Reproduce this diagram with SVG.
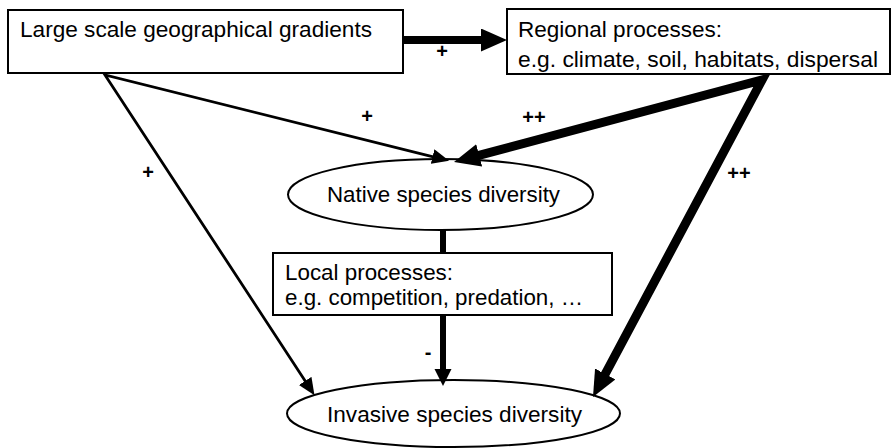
<svg xmlns="http://www.w3.org/2000/svg" width="893" height="448" viewBox="0 0 893 448">
<style>
.box{fill:#fff;stroke:#000;stroke-width:2}
.t{font-family:"Liberation Sans",Arial,sans-serif;font-size:22px;fill:#000}
.lab{font-family:"Liberation Sans",Arial,sans-serif;font-size:20px;font-weight:bold;fill:#000;text-anchor:middle}
.c{fill:none;stroke:#000;stroke-linejoin:miter;stroke-miterlimit:6}
</style>
<defs>
<marker id="thin" markerUnits="userSpaceOnUse" markerWidth="20" markerHeight="16" refX="9" refY="7.5" orient="auto-start-reverse" viewBox="0 0 20 16">
<path d="M0,0 L17,7.5 L0,15 z" fill="#000"/>
</marker>
<marker id="thick" markerUnits="userSpaceOnUse" markerWidth="28" markerHeight="24" refX="13" refY="11.5" orient="auto-start-reverse" viewBox="0 0 28 24">
<path d="M0,0 L26,11.5 L0,23 z" fill="#000"/>
</marker>
<marker id="mid" markerUnits="userSpaceOnUse" markerWidth="18" markerHeight="18" refX="8" refY="8.5" orient="auto" viewBox="0 0 18 18">
<path d="M0,0 L17,8.5 L0,17 z" fill="#000"/>
</marker>
</defs>
<rect width="893" height="448" fill="#fff"/>
<g id="gradients">
<rect class="box" x="8" y="10" width="395" height="63"/>
<text class="t" x="20" y="37" textLength="352" lengthAdjust="spacingAndGlyphs">Large scale geographical gradients</text>
</g>
<g id="regional">
<rect class="box" x="507" y="9" width="383" height="65"/>
<text class="t" x="518" y="37" textLength="204" lengthAdjust="spacingAndGlyphs">Regional processes:</text>
<text class="t" x="518" y="67" textLength="360" lengthAdjust="spacingAndGlyphs">e.g. climate, soil, habitats, dispersal</text>
</g>
<g id="native">
<ellipse class="box" cx="440.5" cy="194.5" rx="152.5" ry="35.5"/>
<text class="t" x="327" y="202" textLength="233" lengthAdjust="spacingAndGlyphs">Native species diversity</text>
</g>
<g id="local">
<rect class="box" x="273" y="253" width="339" height="62"/>
<text class="t" x="285" y="280" textLength="168" lengthAdjust="spacingAndGlyphs">Local processes:</text>
<text class="t" x="285" y="305" textLength="298" lengthAdjust="spacingAndGlyphs">e.g. competition, predation, …</text>
</g>
<g id="invasive">
<ellipse class="box" cx="453.5" cy="413.5" rx="166.5" ry="33.5"/>
<text class="t" x="327" y="422" textLength="255" lengthAdjust="spacingAndGlyphs">Invasive species diversity</text>
</g>
<g id="connectors">
<line class="c" x1="403" y1="40" x2="494" y2="40" stroke-width="8" marker-end="url(#thick)"/>
<polyline class="c" points="441.3,158.8 105,75 310.1,388.5" stroke-width="2.8" marker-start="url(#thin)" marker-end="url(#thin)"/>
<polyline class="c" points="466.6,158.7 762,80 599.1,385.5" stroke-width="9" marker-start="url(#thick)" marker-end="url(#thick)"/>
<line class="c" x1="443" y1="230" x2="443" y2="253" stroke-width="6"/>
<line class="c" x1="443" y1="315" x2="443" y2="377" stroke-width="6" marker-end="url(#mid)"/>
<text class="lab" x="442" y="58">+</text>
<text class="lab" x="367" y="123">+</text>
<text class="lab" x="148" y="179">+</text>
<text class="lab" x="534" y="124">++</text>
<text class="lab" x="739" y="180">++</text>
<text class="lab" x="428" y="359">-</text>
</g>
</svg>
